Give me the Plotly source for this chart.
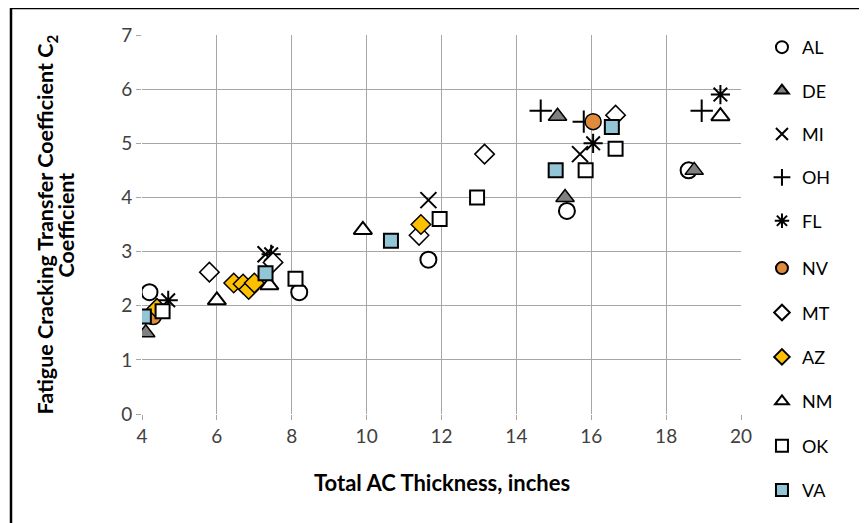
import plotly.graph_objects as go

# thickness (in) and C2 values per state
al_x = [4.2, 8.2, 11.65, 15.35, 18.6]
al_y = [2.25, 2.25, 2.85, 3.75, 4.5]
de_x = [4.1, 15.1, 15.3, 18.75]
de_y = [1.5, 5.5, 4.0, 4.5]
mi_x = [7.3, 11.65, 15.7]
mi_y = [2.95, 3.95, 4.8]
oh_x = [14.65, 15.8, 18.95]
oh_y = [5.6, 5.4, 5.6]
fl_x = [4.7, 7.45, 16.05, 19.45]
fl_y = [2.1, 2.95, 5.0, 5.9]
nv_x = [4.3, 16.05]
nv_y = [1.8, 5.4]
mt_x = [5.8, 7.5, 11.4, 13.15, 16.65]
mt_y = [2.62, 2.8, 3.3, 4.8, 5.52]
az_x = [4.4, 6.45, 6.7, 6.85, 7.0, 11.45]
az_y = [1.95, 2.42, 2.4, 2.3, 2.42, 3.5]
nm_x = [6.0, 7.4, 9.9, 19.45]
nm_y = [2.1, 2.38, 3.4, 5.5]
ok_x = [4.55, 8.1, 11.95, 12.95, 15.85, 16.65]
ok_y = [1.9, 2.5, 3.6, 4.0, 4.5, 4.9]
va_x = [4.05, 7.3, 10.65, 15.05, 16.55]
va_y = [1.8, 2.6, 3.2, 4.5, 5.3]

fig = go.Figure()

def add(name, xs, ys, symbol, color, size=15, lw=2, leg='legend'):
    fig.add_trace(go.Scatter(
        x=xs, y=ys, mode='markers', name=name, legendgroup=name, legend=leg,
        marker=dict(symbol=symbol, size=size, color=color,
                    line=dict(color='black', width=lw))))

add('AL', al_x, al_y, 'circle', 'white', 16)
add('DE', de_x, de_y, 'triangle-up', '#808080', 16, 1.5)
add('MI', mi_x, mi_y, 'x-thin-open', 'black', 16)
add('OH', oh_x, oh_y, 'cross-thin-open', 'black', 16)
add('FL', fl_x, fl_y, 'asterisk-open', 'black', 16)
# legend is too tall for one plotly legend box, so split in two
add('NV', nv_x, nv_y, 'circle', '#e08a3c', 16, 1.5, 'legend2')
add('MT', mt_x, mt_y, 'diamond', 'white', 15, 1.5, 'legend2')
add('AZ', az_x, az_y, 'diamond', '#ffc000', 15, 1.5, 'legend2')
add('NM', nm_x, nm_y, 'triangle-up', 'white', 16, 2, 'legend2')
add('OK', ok_x, ok_y, 'square', 'white', 14, 2, 'legend2')
add('VA', va_x, va_y, 'square', '#92c5d6', 14, 2, 'legend2')

font = 'Lato, Open Sans, sans-serif'
fig.update_xaxes(range=[4, 20], dtick=2, showgrid=True, gridcolor='#a6a6a6',
                 gridwidth=1, zeroline=False, showline=False,
                 ticks='outside', ticklen=5, tickcolor='#a6a6a6',
                 tickfont=dict(size=19, color='#404040', family=font))
fig.update_yaxes(range=[0, 7], dtick=1, showgrid=True, gridcolor='#a6a6a6',
                 gridwidth=1, zeroline=False, showline=False,
                 ticks='outside', ticklen=5, tickcolor='#a6a6a6',
                 tickfont=dict(size=19, color='#404040', family=font))

legfont = dict(size=18, color='black', family=font)
titlefont = dict(size=21.5, color='black', family=font)
fig.update_layout(
    width=867, height=523,
    margin=dict(l=134, r=134, t=27, b=117, autoexpand=False),
    plot_bgcolor='white', paper_bgcolor='white',
    legend=dict(x=1.035, y=1.016, xanchor='left', yanchor='top', font=legfont,
                tracegroupgap=17, itemwidth=30, itemsizing='constant'),
    legend2=dict(x=1.035, y=0.433, xanchor='left', yanchor='top', font=legfont,
                 tracegroupgap=18, itemwidth=30, itemsizing='constant'),
    shapes=[dict(type='rect', xref='paper', yref='paper',
                 x0=-0.2187, x1=1.35, y0=-0.4, y1=1.071,
                 line=dict(color='black', width=2.5))],
    annotations=[
        dict(text='<b>Total AC Thickness, inches</b>', xref='paper', yref='paper',
             x=0.5, y=-0.182, xanchor='center', yanchor='middle', showarrow=False,
             font=dict(size=22, color='black', family=font)),
        dict(text='<b>Fatigue Cracking Transfer Coefficient C<sub>2</sub></b>',
             xref='paper', yref='paper', x=-0.1586, y=0.5, textangle=-90,
             xanchor='center', yanchor='middle', showarrow=False, font=titlefont),
        dict(text='<b>Coefficient</b>', xref='paper', yref='paper', x=-0.1269, y=0.5,
             textangle=-90, xanchor='center', yanchor='middle', showarrow=False,
             font=titlefont),
    ],
)

fig.write_html("out.html")
